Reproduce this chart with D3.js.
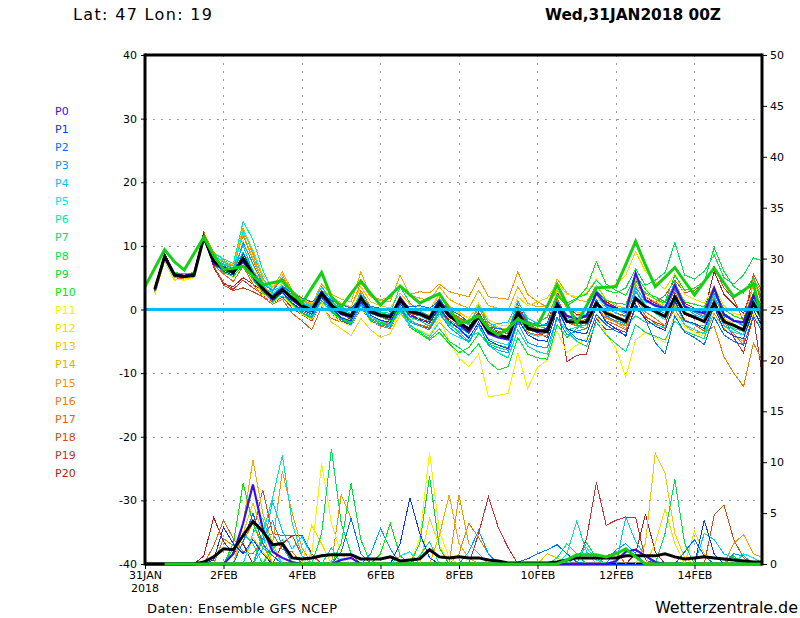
<!DOCTYPE html>
<html>
<head>
<meta charset="utf-8">
<script src="https://cdn.jsdelivr.net/npm/d3@7"></script>
<style>
  body { margin: 0; background: #fff; }
  svg text { font-family: "DejaVu Sans", sans-serif; }
</style>
</head>
<body>
<svg id="chart" width="800" height="618"></svg>
<script>
// Achse / Beschriftung
const xTickDays = [0, 2, 4, 6, 8, 10, 12, 14];
const xTickLabels = ['31JAN', '2FEB', '4FEB', '6FEB', '8FEB', '10FEB', '12FEB', '14FEB'];
const tempTicks = [-40, -30, -20, -10, 0, 10, 20, 30, 40];
const precipTicks = [0, 5, 10, 15, 20, 25, 30, 35, 40, 45, 50];
const stepDays = 0.25; // 6-stuendige Werte

const memberNames = ['P0','P1','P2','P3','P4','P5','P6','P7','P8','P9','P10',
                     'P11','P12','P13','P14','P15','P16','P17','P18','P19','P20'];
const memberColors = ['#3a10e6','#0838ff','#0070ff','#009cff','#00c4ff','#00e6ee','#00e6a8',
                      '#00e078','#00e050','#00e030','#00e800','#f4f400','#f8da00','#f8c200',
                      '#f4aa00','#f09600','#e47e00','#e06418','#d44820','#c83030','#b41c20'];

// Temperatur 850 hPa
const tempOp = [
  3.6, 6.5, 9.4, 7.5, 6.2, 8.8, 11.4, 8.5, 6.3, 6.5, 6.8, 5.3, 3.9, 4.2, 4.5, 2.8,
  1.0, 3.4, 5.8, 2.0, 0.4, 2.5, 4.5, 2.5, 0.7, 2.2, 3.7, 2.3, 1.0, 1.8, 2.5, 0.2,
  -2.2, -1.8, -1.0, -3.0, -4.0, -3.0, -1.5, -2.2, -2.5, 0.5, 3.9, 0.8, -2.2, 0.6, 3.4, 3.5,
  3.6, 7.1, 10.7, 7.0, 3.6, 5.1, 6.6, 4.4, 2.3, 4.4, 6.5, 4.2, 2.0, 3.0, 4.1, -2.2];
const tempMean = [
  null, 3.2, 8.3, 5.4, 5.2, 5.4, 11.4, 7.6, 6.5, 5.8, 8.0, 5.5, 3.3, 1.8, 3.1, 1.8,
  0.6, -0.1, 2.5, 0.7, -0.5, -1.0, 1.8, -0.3, -0.9, -1.1, 1.5, -0.3, -0.7, -1.4, 1.0, -1.0,
  -2.0, -3.1, -1.0, -3.5, -4.0, -4.4, -0.5, -3.0, -3.3, -3.5, 0.7, -1.9, -2.0, -2.0, 1.0, -0.6,
  -1.2, -1.9, 1.8, 0.4, -0.3, -1.1, 2.0, -0.6, -1.2, -1.9, 1.0, -1.9, -2.5, -3.2, 1.0, -1.6];
const tempP0 = [
  null, 3.0, 8.5, 5.6, 5.3, 5.6, 11.3, 7.2, 6.4, 5.9, 7.6, 5.2, 3.1, 2.0, 3.3, 1.5,
  0.4, -0.2, 2.8, 0.5, -0.7, -1.2, 2.0, -0.5, -1.0, -1.3, 1.9, -0.2, -0.5, -1.2, 1.4, -0.8,
  -2.4, -3.6, -1.2, -3.8, -4.4, -4.7, -0.2, -2.8, -3.6, -3.0, 1.0, -1.0, -1.5, -1.0, 2.6, 0.8,
  0.2, -0.4, 5.7, 1.5, 0.6, 0.2, 3.8, 0.5, -0.2, -0.6, 3.4, -0.8, -1.8, -2.0, 2.2, -0.5];
const tempP1 = [
  null, 3.4, 8.1, 5.2, 5.0, 5.3, 11.0, 7.8, 6.0, 5.4, 8.8, 5.8, 3.6, 1.4, 2.7, 1.0,
  0.0, -0.8, 2.0, 0.2, -1.3, -1.8, 1.2, -0.9, -1.7, -2.0, 0.9, -1.0, -1.6, -2.2, 0.3, -1.8,
  -3.0, -4.5, -2.0, -4.8, -5.6, -6.2, -1.5, -4.0, -4.8, -5.0, 0.0, -3.0, -3.6, -3.8, 0.4, -2.0,
  -3.0, -4.2, 0.8, -1.5, -2.6, -3.3, 1.3, -1.8, -2.2, -3.0, 0.4, -3.2, -4.2, -4.6, 0.0, -3.0];
const tempP2 = [
  null, 3.1, 8.4, 5.5, 5.4, 5.5, 11.5, 7.0, 6.8, 6.2, 7.5, 5.0, 3.0, 2.2, 3.6, 2.6,
  1.8, 1.2, 2.6, 1.4, 0.8, 0.2, 1.6, 0.5, 0.2, -0.3, 1.2, 0.4, 0.6, 0.2, 1.4, 0.0,
  -0.8, -2.0, -0.6, -2.8, -3.0, -3.2, 0.4, -2.0, -2.4, -2.6, 0.2, -3.0, -4.6, -5.0, -0.8, -2.4,
  -3.4, -4.0, 0.6, -1.6, -5.2, -7.0, -1.0, -3.6, -4.4, -5.5, -1.2, -4.0, -5.0, -5.6, -1.0, -3.8];
const tempP3 = [
  null, 2.9, 8.0, 5.3, 5.1, 5.2, 11.2, 7.4, 6.6, 5.5, 10.5, 7.2, 4.0, 3.0, 4.8, 1.0,
  -0.5, -1.2, 1.8, -0.2, -1.6, -2.4, 0.8, -1.8, -2.4, -2.8, 0.2, -2.0, -2.6, -3.2, -0.4, -2.8,
  -4.0, -5.2, -2.4, -5.6, -6.4, -6.8, -2.0, -5.2, -5.8, -6.0, -1.2, -4.0, -3.4, -3.0, 1.6, -1.0,
  -1.8, -2.2, 2.8, 0.6, 0.0, -0.6, 3.2, 0.2, -0.4, -1.2, 2.6, -0.6, -1.6, -2.6, 2.4, 0.4];
const tempP4 = [
  null, 3.3, 8.2, 5.4, 5.3, 5.5, 11.6, 7.8, 7.0, 6.6, 10.0, 6.0, 3.4, 2.6, 2.0, 1.8,
  1.0, 0.4, 3.6, 1.4, 0.0, -0.6, 2.4, 0.2, -0.6, -0.8, 1.8, -0.2, -1.0, -1.8, 0.8, -2.0,
  -2.8, -3.8, -0.8, -2.6, -2.2, -2.0, 1.2, -1.4, -2.2, -2.4, 1.4, -1.0, -1.6, -1.2, 2.2, 0.6,
  -0.6, -1.2, 3.6, 1.2, 0.8, 0.4, 4.4, 0.4, -0.8, -1.4, 2.0, -1.0, -1.8, -2.4, 1.8, -0.8];
const tempP5 = [
  null, 3.5, 8.6, 5.6, 5.0, 5.2, 11.0, 8.4, 7.6, 6.2, 12.4, 9.0, 5.0, 2.4, 3.8, 1.0,
  -0.6, -1.0, 2.0, 0.0, -1.2, -1.8, 0.6, -1.2, -1.8, -2.4, -0.4, -2.6, -3.4, -4.2, -2.0, -3.6,
  -4.4, -5.0, -2.6, -4.6, -5.2, -5.6, -1.0, -3.8, -4.2, -4.0, 0.8, -1.4, -1.0, -0.8, 2.6, 0.6,
  0.0, -0.8, 3.0, 0.8, -0.6, -1.6, 1.6, -2.4, -3.2, -3.8, 0.6, -2.6, -3.6, -4.0, 0.6, -2.2];
const tempP6 = [
  null, 3.0, 8.2, 5.0, 5.0, 5.1, 11.2, 8.8, 8.0, 7.2, 13.8, 11.0, 6.2, 3.0, 3.6, 2.2,
  1.0, 0.6, 3.0, 1.6, 0.4, -0.2, 2.6, 0.0, -0.6, -1.0, 0.6, -1.6, -2.6, -3.2, -0.8, -2.4,
  -3.4, -4.2, -3.6, -5.6, -6.8, -7.6, -3.2, -5.8, -6.6, -7.0, -1.4, -3.2, -2.8, -2.4, 1.4, -0.6,
  -1.4, -2.6, -1.0, -2.0, -2.4, -2.8, 0.6, -1.8, -2.4, -2.6, 0.4, -2.0, -3.0, -3.4, 1.4, -0.8];
const tempP7 = [
  null, 3.4, 8.4, 5.2, 5.4, 5.6, 11.8, 8.0, 7.2, 6.4, 9.0, 6.2, 3.8, 2.2, 3.4, 2.0,
  0.8, 0.2, 2.8, 1.2, -0.2, -0.8, 2.2, 0.4, -0.4, -0.6, 3.6, 1.0, -0.2, -1.0, 1.8, -0.6,
  -1.6, -2.4, 0.6, -2.0, -3.0, -3.4, 1.4, -1.8, -2.6, -3.0, 1.2, -3.4, -5.0, -5.8, -2.0, -4.0,
  -5.4, -6.6, -2.4, -3.6, -4.2, -4.8, -1.8, -3.4, -4.0, -4.6, 0.8, -2.2, -3.2, -4.0, 2.0, 0.6];
const tempP8 = [
  null, 3.2, 8.2, 5.4, 5.2, 5.3, 11.3, 7.6, 6.8, 6.0, 8.4, 5.6, 3.2, 2.0, 3.0, 1.6,
  0.2, -0.6, 2.0, 0.4, -0.8, -1.4, 1.4, -0.6, -1.2, -1.8, 1.0, -1.2, -1.8, -2.6, -0.2, -2.2,
  -3.6, -5.0, -2.6, -5.4, -6.0, -6.4, -1.0, -3.0, -2.0, -1.2, 2.4, 1.0, 1.8, 2.4, 4.6, 3.0,
  2.6, 3.4, 6.4, 3.8, 4.6, 5.8, 10.5, 5.4, 4.8, 6.0, 8.6, 5.0, 4.0, 5.4, 8.1, 7.6];
const tempP9 = [
  null, 3.0, 8.0, 5.6, 5.1, 5.4, 11.6, 7.4, 5.8, 5.2, 7.0, 4.6, 2.8, 1.2, 2.6, 0.8,
  -0.6, -1.4, 1.4, -0.4, -1.6, -2.2, 0.8, -1.6, -2.2, -2.6, 0.0, -2.4, -3.6, -4.6, -3.0, -5.0,
  -6.0, -7.2, -5.4, -8.2, -9.5, -9.0, -4.4, -7.0, -7.6, -7.8, -2.4, -4.4, -3.0, -1.6, 3.0, 1.4,
  1.0, 0.8, 4.4, 2.6, 2.0, 1.2, 5.4, 3.0, 3.4, 4.4, 9.7, 6.0, 3.6, 2.6, 5.0, 1.2];
const tempP10 = [
  null, 3.6, 8.6, 5.8, 5.6, 5.8, 11.0, 7.0, 6.2, 5.6, 7.4, 5.0, 2.6, 1.6, 3.2, 1.4,
  0.4, -0.4, 1.8, -0.2, -1.4, -2.0, 1.2, -1.4, -2.0, -2.4, 0.4, -2.8, -3.8, -4.8, -3.6, -5.4,
  -6.8, -6.0, -3.8, -5.2, -5.6, -6.0, -1.4, -3.2, -3.6, -2.8, 2.2, 0.6, 1.6, 3.4, 7.5, 4.0,
  3.0, 2.2, 5.4, 3.2, 1.6, 1.0, 4.2, 1.2, 0.8, 0.4, 3.4, 0.0, -1.0, -1.6, 2.6, 0.2];
const tempP11 = [
  null, 2.6, 7.8, 4.8, 4.6, 5.0, 11.2, 7.2, 6.0, 5.0, 7.8, 4.8, 2.4, 1.0, 2.2, 0.6,
  -0.8, -1.6, 1.2, -0.8, -2.0, -2.6, 0.6, -2.0, -2.4, -2.8, -0.4, -2.6, -3.2, -4.0, -1.4, -5.0,
  -7.6, -9.0, -7.0, -13.7, -13.5, -13.2, -6.8, -12.4, -9.1, -8.0, -3.4, -6.8, -5.6, -4.6, -0.8, -4.0,
  -6.0, -10.6, -4.8, -3.6, -4.4, -5.2, -0.6, -2.8, -3.6, -4.2, 0.2, -2.0, -3.0, -4.6, -0.6, -3.4];
const tempP12 = [
  null, 2.2, 7.6, 4.6, 4.8, 5.0, 11.0, 7.0, 6.2, 5.6, 10.8, 7.0, 3.8, 2.4, 4.2, 2.2,
  1.2, 0.4, 1.0, -2.0, -3.0, -4.1, -1.4, -3.2, -4.4, -3.8, -0.8, -1.8, -1.2, -0.8, 2.4, 0.4,
  -0.6, -1.4, 1.0, -1.6, -2.4, -2.6, 2.0, 0.6, 1.2, 1.8, 4.2, 2.4, 2.0, 2.6, 4.8, 3.0,
  4.0, 5.4, 9.1, 6.0, 4.4, 3.2, 5.6, 2.4, 1.6, 1.0, 3.6, 0.6, -0.6, -1.0, 1.6, -0.4];
const tempP13 = [
  null, 3.4, 8.6, 5.0, 5.2, 5.6, 11.8, 8.2, 7.6, 7.0, 12.6, 9.4, 5.4, 3.6, 4.8, 3.0,
  1.8, 1.0, 3.4, 2.0, 1.0, 0.4, 3.6, 1.2, 0.6, 0.2, 2.6, 0.8, 0.4, 0.0, 2.4, 0.6,
  -0.4, -1.4, 0.8, -2.0, -2.8, -3.2, 0.6, -2.0, -2.6, -3.0, 3.2, 0.4, -0.4, -0.8, 2.4, -0.2,
  -1.0, -1.6, 4.8, 2.4, 1.6, 0.6, 3.0, -0.4, -1.2, -2.0, 2.2, -1.4, -2.2, -3.6, 1.2, -2.6];
const tempP14 = [
  null, 3.2, 8.2, 5.6, 5.4, 5.6, 11.6, 8.6, 7.6, 6.4, 12.0, 8.0, 4.6, 3.4, 5.9, 3.0,
  1.6, 0.8, 4.0, 2.4, 1.6, 1.2, 5.9, 2.0, 1.4, 1.2, 5.4, 2.2, 1.8, 1.4, 3.6, 1.6,
  0.8, 0.2, 3.0, 0.6, 0.2, -0.2, 3.6, 1.0, 0.4, 0.6, 4.8, 2.6, 1.6, 1.2, 3.8, 1.6,
  0.6, 0.2, 4.0, 2.0, 1.2, 0.4, 3.4, 0.6, -0.4, -1.0, 2.6, -0.6, -1.8, -2.6, 4.2, 1.8];
const tempP15 = [
  null, 2.8, 8.0, 5.2, 5.0, 5.4, 12.0, 9.0, 7.8, 6.8, 12.8, 8.6, 4.2, 3.0, 5.4, 2.6,
  1.4, 0.6, 3.0, 1.6, 0.8, 0.4, 4.2, 2.0, 1.6, 1.8, 3.8, 2.4, 2.8, 2.6, 4.0, 2.8,
  2.4, 2.0, 4.9, 2.0, 1.8, 1.6, 5.9, 2.4, 1.2, 0.4, 3.0, 0.2, -1.4, -2.0, 1.6, -1.2,
  -2.0, -3.0, 2.8, 0.6, -0.4, -1.6, 1.2, -2.4, -3.6, -4.2, -0.6, -3.0, -4.2, -5.0, 4.8, 2.4];
const tempP16 = [
  null, 3.0, 8.4, 5.4, 5.2, 5.4, 11.8, 8.4, 7.4, 6.8, 11.6, 7.8, 4.4, 2.8, 5.0, 2.4,
  1.0, 0.2, 2.2, 0.8, -0.4, -1.0, 3.0, 0.4, -0.6, -0.8, 1.8, 0.0, -0.6, -1.2, 1.4, -0.4,
  -1.4, -2.4, 0.2, -2.4, -3.0, -3.6, 0.4, -2.6, -3.0, -3.4, 1.4, -1.8, -2.6, -3.0, 0.4, -1.4,
  -2.0, -2.6, 2.0, -0.4, -1.4, -2.6, 0.0, -2.4, -3.6, -3.7, -2.6, -7.4, -10.0, -12.1, -5.3, -8.3];
const tempP17 = [
  null, 3.0, 8.0, 5.0, 4.8, 5.0, 11.8, 7.0, 5.6, 4.4, 6.8, 4.0, 2.0, 0.8, 1.6, -0.6,
  -1.8, -3.2, 0.4, -1.4, -2.0, -2.6, 0.2, -1.8, -2.6, -3.0, -0.2, -1.8, -2.4, -2.8, 0.2, -1.6,
  -2.6, -3.4, -1.2, -3.8, -4.4, -4.8, -1.8, -3.6, -4.0, -3.6, 1.6, -2.0, -2.6, -2.4, 0.8, -1.8,
  -2.4, -3.2, 1.6, -1.0, -2.2, -3.0, 1.0, -1.6, -2.4, -3.4, 1.8, -2.4, -3.8, -5.6, 5.3, 0.2];
const tempP18 = [
  null, 3.4, 8.6, 5.8, 5.6, 5.6, 12.3, 7.0, 3.8, 3.0, 3.4, 2.8, 2.0, 1.2, 2.6, 0.8,
  -0.2, -1.0, 1.8, 0.0, -1.4, -2.2, 0.8, -1.2, -1.8, -2.2, 1.0, -0.6, -1.0, -1.6, 1.2, -0.4,
  -1.2, -2.2, 0.4, -2.8, -3.4, -3.8, 0.2, -2.4, -3.0, -3.6, 1.8, -1.4, -1.8, -1.6, 2.4, 0.4,
  -0.6, -1.0, 3.4, 1.4, 1.2, 2.2, 4.6, 2.6, 3.0, 4.2, 6.8, 3.4, 1.6, -1.8, 5.6, 2.6];
const tempP19 = [
  null, 3.2, 8.2, 5.4, 5.2, 5.2, 12.0, 6.8, 4.2, 3.2, 4.6, 3.4, 2.4, 1.0, 2.0, 0.2,
  -0.8, -1.8, 1.2, -0.8, -1.8, -2.4, 0.4, -1.4, -2.0, -2.6, 0.4, -1.8, -2.4, -3.0, 0.0, -2.0,
  -3.0, -3.6, -1.4, -3.4, -4.0, -4.2, -0.4, -2.6, -3.6, -4.4, 1.2, -8.2, -7.2, -7.0, -1.4, -3.2,
  -3.0, -3.6, 0.2, -1.2, -2.0, -2.6, 2.8, -0.8, -1.4, -2.0, 3.2, -1.2, -4.4, -6.8, -1.0, -11.3];
const tempP20 = [
  null, 3.6, 8.8, 5.6, 5.4, 5.8, 12.2, 6.6, 4.0, 3.6, 5.0, 4.0, 2.8, 1.8, 3.2, 1.4,
  0.4, -0.6, 2.4, 0.4, -0.6, -1.6, 1.6, -0.6, -1.2, -1.6, 1.8, -0.8, -1.4, -2.0, 0.6, -1.2,
  -2.2, -2.8, -0.4, -3.2, -3.6, -3.4, 0.8, -2.2, -2.6, -2.2, 2.6, 0.4, -0.8, -1.0, 3.0, 1.2,
  0.4, -0.4, 4.6, 2.0, 1.0, 0.4, 3.6, 1.0, 0.2, -0.4, 6.0, 2.4, 0.8, -0.6, 3.8, -4.0];

// Niederschlag (mm / 6h)
const precOp = [
  null, null, 0, 0, 0, 0, 0, 0, 0, 0, 0, 0, 0, 0, 0, 0,
  0, 0, 0, 0, 0, 0, 0, 0, 0, 0, 0, 0, 0, 0, 0, 0,
  0, 0, 0, 0, 0, 0, 0, 0, 0, 0, 0, 0.4, 0.9, 0.9, 0.9, 0.7,
  1.0, 1.5, 0.7, 0, 0, 0, 0, 0, 0, 0, 0, 0, 0, 0, 0, 0];
const precMean = [
  0, 0, 0, 0, 0, 0, 0.2, 0.7, 1.5, 1.4, 2.8, 4.2, 3.2, 1.9, 2.0, 0.6,
  0.5, 0.6, 0.8, 0.9, 0.9, 0.9, 0.5, 0.5, 0.5, 0.7, 0.3, 0.4, 0.5, 1.4, 0.7, 0.6,
  0.7, 0.6, 0.6, 0.4, 0.3, 0.1, 0.1, 0.1, 0.1, 0.1, 0.2, 0.4, 0.6, 0.6, 0.6, 0.6,
  0.6, 0.8, 0.8, 0.8, 0.8, 1.0, 0.7, 0.5, 0.6, 0.7, 0.6, 0.5, 0.4, 0.3, 0.2, 0.2];
const precP0 = [
  null, 0, 0, 0, 0, 0, 0, 0, 0, 1.0, 4.0, 7.8, 3.5, 1.2, 0.6, 0.2,
  0, 0, 0, 0, 0.4, 0.6, 0, 0, 0, 0, 0, 0, 0, 0, 0, 0,
  0, 0, 0, 0, 0, 0, 0, 0, 0, 0, 0, 0, 0, 0, 0, 0,
  0.3, 1.2, 1.4, 0.8, 0.2, 0, 0, 0, 0, 0, 0, 0, 0, 0, 0, 0];
const precP1 = [
  null, 0, 0, 0, 0, 0, 0, 0.4, 3.6, 2.0, 1.0, 2.4, 1.0, 0, 0, 0,
  0, 0, 0, 0, 0, 0, 0, 0, 0, 0, 2.0, 6.5, 3.0, 0.6, 0, 0,
  0, 0, 0, 0, 0, 0, 0, 0, 0, 0, 0, 0, 0, 0, 0, 0,
  0, 0, 0, 0, 0, 0, 0, 0, 0, 4.3, 1.0, 0, 0, 0, 0, 0];
const precP2 = [
  null, 0, 0, 0, 0, 0, 0, 0, 0, 0, 2.2, 5.0, 2.0, 0.8, 0, 0,
  0, 0, 0, 0, 1.2, 4.5, 1.0, 0, 0, 0, 0, 0, 0, 0, 0, 0,
  0, 0, 0, 0, 0, 0, 0.2, 0.5, 1.0, 1.4, 1.9, 1.0, 0.2, 0, 0, 0,
  0, 0, 0, 0, 0, 0, 0, 1.2, 2.4, 0.8, 0, 0, 0, 0, 0, 0];
const precP3 = [
  null, 0, 0, 0, 0, 0, 0, 0, 0, 0, 0, 0, 2.5, 4.2, 1.8, 0,
  0, 0, 0, 0, 0, 0, 0, 1.0, 3.5, 1.5, 0, 0, 0, 0, 0, 0,
  0, 1.2, 3.3, 1.0, 0, 0, 0, 0, 0, 0, 0, 0, 0, 0, 0, 0,
  1.4, 2.0, 1.0, 0, 0, 0, 0, 0, 0, 0, 0, 0, 1.0, 0.8, 0, 0];
const precP4 = [
  null, 0, 0, 0, 0, 0, 0, 0, 0, 0, 0, 0, 1.5, 6.1, 3.2, 1.5,
  2.7, 0.8, 0, 0, 0, 0, 0, 0, 0, 0, 0, 0, 0, 0, 0, 0,
  0, 0, 0, 0, 0, 0, 0, 0, 0, 0, 0, 0, 0, 0, 0, 0,
  0, 4.6, 2.2, 0.8, 0, 0, 0, 0, 0, 3.0, 2.4, 1.0, 0.6, 0, 0, 0];
const precP5 = [
  null, 0, 0, 0, 0, 0, 0, 0, 0, 0, 0, 3.0, 4.5, 1.6, 0, 0,
  0, 0, 0, 0, 0, 0, 0, 0, 0, 0, 0.8, 1.2, 0, 0, 0, 0,
  0, 0, 0, 0, 0, 0, 0, 0, 0, 0, 0, 0, 0.8, 1.6, 0.4, 0,
  0, 0, 0, 0, 0, 0, 0, 0, 0, 0, 0, 0, 0, 1.0, 0.6, 0];
const precP6 = [
  null, 0, 0, 0, 0, 0, 0, 0, 0, 0, 0, 0, 3.0, 6.5, 10.7, 4.0,
  0.8, 0, 0, 0, 0, 0, 0, 0, 0, 0, 0, 0, 0, 0, 0, 0,
  0, 0, 0, 0, 0, 0, 0, 0, 0, 0, 0, 1.0, 4.2, 1.2, 0, 0,
  0, 0, 0, 0, 0, 0, 0, 0, 0, 0, 0, 0, 0, 0, 0, 0];
const precP7 = [
  null, 0, 0, 0, 0, 0, 0, 0, 0, 1.5, 3.0, 2.0, 0, 0, 0, 0,
  0, 0, 0, 1.6, 0, 0, 0, 0, 0, 0, 0, 0, 0.8, 2.2, 0, 0,
  0, 0, 0, 0, 0, 0, 0, 0, 0, 0, 0.6, 2.0, 1.0, 0, 0, 0,
  0, 0, 0, 0, 0, 0, 0, 0, 0, 0, 0, 0, 0, 0, 0, 0];
const precP8 = [
  null, 0, 0, 0, 0, 0, 0, 0, 0, 0, 0, 0, 0, 0, 0, 0,
  0, 0, 3.0, 11.3, 4.0, 1.0, 0, 0, 0, 0, 0, 0, 0, 0, 0, 0,
  0, 0, 0, 0, 0, 0, 0, 0, 0, 0, 0, 0, 0, 0, 0, 0,
  0, 0, 0, 0, 0, 3.0, 8.3, 2.0, 0, 0, 0, 0, 0, 0, 0, 0];
const precP9 = [
  null, 0, 0, 0, 0, 0, 0, 0, 0, 0, 0, 0, 0, 1.5, 2.4, 0,
  0, 0, 0, 0, 2.0, 7.9, 2.4, 0, 0, 0, 0, 0, 2.0, 8.6, 1.6, 0,
  0, 0, 0, 0, 0, 0, 0, 0, 0, 0, 0, 0, 0, 2.1, 0.6, 0,
  0, 0, 0, 0, 0, 0, 0, 0, 0, 0, 0, 0, 0, 0, 0, 0];
const precP10 = [
  null, 0, 0, 0, 0, 0, 0, 0, 0, 2.0, 7.9, 4.0, 1.6, 0.8, 0, 0,
  0, 0, 0, 0, 0, 0, 0, 0, 1.0, 4.0, 0.8, 0, 0, 0, 0, 0,
  0, 0, 0, 0, 0, 0, 0, 0, 0, 0, 0, 0, 0, 0, 0, 0,
  0, 0, 0, 0, 0, 0, 0, 0, 0, 0, 0, 0, 0.8, 0, 0, 0];
const precP11 = [
  null, 0, 0, 0, 0, 0, 0, 0, 0, 0, 0, 0, 0, 0, 0, 0,
  0, 1.0, 9.9, 4.0, 1.0, 0, 0, 0, 0, 0, 0, 0, 2.5, 11.0, 3.2, 0.6,
  0, 0, 0, 0, 0, 0, 0, 0, 0, 0, 0, 0, 0, 0, 0, 0,
  0, 0, 0, 0, 0, 0, 0, 0, 0, 0, 0, 0, 0, 0, 0, 0];
const precP12 = [
  null, 0, 0, 0, 0, 0, 0, 0, 0, 0, 0, 2.6, 1.2, 0, 0, 0,
  0, 3.8, 2.0, 0, 0, 0, 0, 0, 0, 0, 0, 0, 0, 4.5, 1.8, 0,
  0, 0, 0, 0, 0, 0, 0, 0, 0, 0, 0, 0, 0, 0, 0, 0,
  0, 0, 0, 0, 2.0, 5.4, 2.0, 0, 3.2, 1.0, 0, 0, 0, 0, 0, 0];
const precP13 = [
  null, 0, 0, 0, 0, 0, 0, 0, 0, 0, 3.0, 6.0, 3.0, 0, 0, 0,
  0, 0, 0, 0, 0, 0, 0, 0, 0, 0, 0, 0, 0, 0, 0, 0,
  0, 0, 0, 0, 0, 0, 0, 0, 0, 1.0, 0.6, 0, 0, 0, 0, 0,
  0, 0, 0, 2.0, 10.9, 8.9, 3.0, 0.6, 0, 0, 0, 0, 0, 0, 0, 0];
const precP14 = [
  null, 0, 0, 0, 0, 0, 0, 0, 0, 0, 4.0, 10.2, 5.0, 2.0, 0, 0,
  0, 0, 0, 0, 0, 0, 0, 0, 0, 0, 0, 0, 0, 0, 2.8, 6.8,
  2.0, 0.6, 0, 0, 0, 0, 0, 0, 0, 0, 0, 0, 0, 0, 0, 0,
  0, 0, 0, 0, 0, 0, 0, 0, 0, 0, 0, 0, 0, 0, 0, 0];
const precP15 = [
  null, 0, 0, 0, 0, 0, 0, 0, 0, 0, 0, 0, 0, 2.0, 9.1, 5.0,
  1.6, 0, 0, 0, 6.8, 4.5, 1.0, 0, 0, 0, 0, 0, 0, 0, 0, 0,
  6.8, 2.0, 1.0, 0, 0, 0, 0, 0, 0, 0, 0, 0, 0, 0, 0, 0,
  0, 0, 0, 0, 0, 0, 0, 0, 0, 0, 0, 0, 2.0, 2.9, 1.0, 0.6];
const precP16 = [
  null, 0, 0, 0, 0, 0, 0, 0, 2.5, 1.8, 2.2, 4.0, 2.0, 0, 0, 0,
  0, 0, 0, 0, 0, 0, 0, 0, 0, 0, 0, 0, 0, 0, 0, 0,
  1.0, 4.0, 2.6, 1.0, 0, 0, 0, 0, 0, 0, 0, 0, 0, 0, 0, 0,
  0, 0, 0, 0, 0, 0, 0, 0, 0, 0, 0, 0, 0, 0, 0, 0];
const precP17 = [
  null, 0, 0, 0, 0, 0, 0, 1.8, 4.3, 2.5, 1.2, 1.0, 2.4, 3.0, 1.4, 1.2,
  0, 0, 0, 0, 0, 0, 0, 0, 0, 0, 0, 0, 0, 0, 0, 0,
  0, 0, 0, 0, 0, 0, 0, 0, 0, 0, 0, 0, 0, 0, 0, 0.8,
  1.2, 0, 0, 0, 0, 0, 0, 0, 0, 0, 0, 0, 0, 0, 0, 0];
const precP18 = [
  null, 0, 0, 0, 0, 0, 0, 0, 0, 0, 0, 3.0, 7.3, 3.0, 2.8, 2.8,
  0.8, 0, 0, 0, 0, 0, 0, 0, 0, 0, 0, 0, 0, 0, 0, 0,
  0, 0, 0, 0, 0, 0, 0, 0, 0, 0, 0, 0, 0, 0, 0, 0,
  0, 0, 0, 0, 0, 0, 0, 0, 0, 0, 4.8, 5.8, 2.4, 0.6, 0, 0];
const precP19 = [
  null, 0, 0, 0, 0, 0, 0, 0, 0, 0, 0, 0, 0, 0, 0, 0,
  0, 0, 0, 0, 0, 0, 0, 0, 0, 0, 0, 0, 0, 0, 0, 0,
  0, 0, 3.0, 6.6, 3.6, 1.6, 0, 0, 0, 0, 0, 0, 0, 2.5, 8.0, 3.8,
  4.3, 4.6, 4.6, 0.4, 0, 0, 0, 0, 0, 0, 0, 0, 0, 0, 0, 0];
const precP20 = [
  null, 0, 0, 0, 0, 0, 0.8, 4.6, 2.2, 1.0, 2.0, 0, 0, 0, 2.0, 2.8,
  2.8, 1.0, 0, 0, 0, 0, 0, 0, 0, 0, 0, 0, 0, 0, 0, 0,
  0, 0, 0, 0, 0, 0, 0, 0, 0, 0, 0, 0, 0, 0, 0, 0,
  0, 0, 1.0, 4.9, 1.2, 0, 0, 0, 0, 0, 0, 0, 0, 0, 0, 0];

const tempMembers = [tempP0, tempP1, tempP2, tempP3, tempP4, tempP5, tempP6, tempP7, tempP8, tempP9, tempP10,
                     tempP11, tempP12, tempP13, tempP14, tempP15, tempP16, tempP17, tempP18, tempP19, tempP20];
const precMembers = [precP0, precP1, precP2, precP3, precP4, precP5, precP6, precP7, precP8, precP9, precP10,
                     precP11, precP12, precP13, precP14, precP15, precP16, precP17, precP18, precP19, precP20];

// Skalen
const plotLeft = 145, plotRight = 762, plotTop = 55, plotBottom = 564;
const svg = d3.select('#chart');
const x = d3.scaleLinear().domain([0, 15.72]).range([plotLeft, plotRight]);
const yT = d3.scaleLinear().domain([-40, 40]).range([plotBottom, plotTop]);
const yP = d3.scaleLinear().domain([0, 50]).range([plotBottom, plotTop]);

svg.append('defs').append('clipPath').attr('id', 'plotclip')
  .append('rect').attr('x', plotLeft).attr('y', plotTop - 2)
  .attr('width', plotRight - plotLeft).attr('height', plotBottom - plotTop + 4);

// Gitter
const grid = svg.append('g').attr('stroke', '#9a9a9a').attr('stroke-width', 1)
  .attr('stroke-dasharray', '2,6').attr('shape-rendering', 'crispEdges');
grid.selectAll('.vg').data(xTickDays.slice(1)).enter().append('line')
  .attr('x1', d => Math.round(x(d)) + 0.5).attr('x2', d => Math.round(x(d)) + 0.5)
  .attr('y1', plotTop).attr('y2', plotBottom);
grid.selectAll('.hg').data(tempTicks.filter(d => d !== 0 && Math.abs(d) !== 40)).enter().append('line')
  .attr('x1', plotLeft).attr('x2', plotRight)
  .attr('y1', d => Math.round(yT(d)) + 0.5).attr('y2', d => Math.round(yT(d)) + 0.5);

// untere Rahmenlinie liegt unter den Kurven
svg.append('line').attr('x1', plotLeft).attr('x2', plotRight)
  .attr('y1', plotBottom).attr('y2', plotBottom)
  .attr('stroke', '#000').attr('stroke-width', 3);

// Linien
const lineT = d3.line().defined(d => d != null).x((d, i) => x(i * stepDays)).y(d => yT(d));
const lineP = d3.line().defined(d => d != null).x((d, i) => x(i * stepDays)).y(d => yP(d));

const plot = svg.append('g').attr('clip-path', 'url(#plotclip)');

// Mitglieder P1..P20 duenn
for (let k = memberNames.length - 1; k >= 1; k--) {
  plot.append('path').attr('d', lineP(precMembers[k]))
    .attr('fill', 'none').attr('stroke', memberColors[k]).attr('stroke-width', 1)
    .attr('shape-rendering', 'crispEdges');
  plot.append('path').attr('d', lineT(tempMembers[k]))
    .attr('fill', 'none').attr('stroke', memberColors[k]).attr('stroke-width', 1)
    .attr('shape-rendering', 'crispEdges');
}
// Kontrolllauf P0 etwas dicker
plot.append('path').attr('d', lineP(precP0))
  .attr('fill', 'none').attr('stroke', memberColors[0]).attr('stroke-width', 2.2);
plot.append('path').attr('d', lineT(tempP0))
  .attr('fill', 'none').attr('stroke', memberColors[0]).attr('stroke-width', 2.2);

// Mittel (schwarz)
plot.append('path').attr('d', lineP(precMean))
  .attr('fill', 'none').attr('stroke', '#000').attr('stroke-width', 3);
plot.append('path').attr('d', lineT(tempMean))
  .attr('fill', 'none').attr('stroke', '#000').attr('stroke-width', 3);

// Hauptlauf (gruen)
plot.append('path').attr('d', lineP(precOp))
  .attr('fill', 'none').attr('stroke', '#12d012').attr('stroke-width', 3);
plot.append('path').attr('d', lineT(tempOp))
  .attr('fill', 'none').attr('stroke', '#12d012').attr('stroke-width', 3);

// Nulllinie
svg.append('line').attr('x1', plotLeft).attr('x2', plotRight)
  .attr('y1', yT(0)).attr('y2', yT(0))
  .attr('stroke', '#00bcf0').attr('stroke-width', 3);

// Rahmen
const frame = svg.append('g').attr('stroke', '#000').attr('stroke-width', 3).attr('fill', 'none');
frame.append('line').attr('x1', plotLeft).attr('x2', plotLeft).attr('y1', plotTop - 1.5).attr('y2', plotBottom + 1.5);
frame.append('line').attr('x1', plotRight).attr('x2', plotRight).attr('y1', plotTop - 1.5).attr('y2', plotBottom + 1.5);
frame.append('line').attr('x1', plotLeft).attr('x2', plotRight).attr('y1', plotTop).attr('y2', plotTop);

// Achsen
const axL = svg.append('g').attr('transform', `translate(${plotLeft - 1},0)`)
  .call(d3.axisLeft(yT).tickValues(tempTicks).tickSize(3).tickPadding(4).tickFormat(d => String(d)));
const axR = svg.append('g').attr('transform', `translate(${plotRight + 1},0)`)
  .call(d3.axisRight(yP).tickValues(precipTicks).tickSize(4).tickPadding(3).tickFormat(d => String(d)));
const axB = svg.append('g').attr('transform', `translate(0,${plotBottom + 1})`)
  .call(d3.axisBottom(x).tickValues(xTickDays).tickSize(4).tickPadding(2)
    .tickFormat((d, i) => xTickLabels[i]));
[axL, axR, axB].forEach(a => {
  a.select('.domain').remove();
  a.selectAll('text').attr('font-size', 11).attr('fill', '#000')
    .attr('font-family', '"DejaVu Sans", sans-serif');
  a.selectAll('line').attr('stroke', '#000');
});
svg.append('text').attr('x', x(0)).attr('y', 592).attr('text-anchor', 'middle')
  .attr('font-size', 11).text('2018');

// Legende
svg.append('g').selectAll('text').data(memberNames).enter().append('text')
  .attr('x', 55).attr('y', (d, i) => 114.5 + i * 18.14)
  .attr('font-size', 11).attr('fill', (d, i) => memberColors[i])
  .text(d => d);

// Titel
svg.append('text').attr('x', 73).attr('y', 20).attr('font-size', 16)
  .attr('textLength', 139).text('Lat: 47 Lon: 19');
svg.append('text').attr('x', 545).attr('y', 20).attr('font-size', 16).attr('font-weight', 'bold')
  .attr('textLength', 176).attr('lengthAdjust', 'spacingAndGlyphs').text('Wed,31JAN2018 00Z');
svg.append('text').attr('x', 147).attr('y', 613).attr('font-size', 13)
  .attr('textLength', 190).text('Daten: Ensemble GFS NCEP');
svg.append('text').attr('x', 655).attr('y', 613).attr('font-size', 16)
  .attr('textLength', 143).text('Wetterzentrale.de');
</script>
</body>
</html>
